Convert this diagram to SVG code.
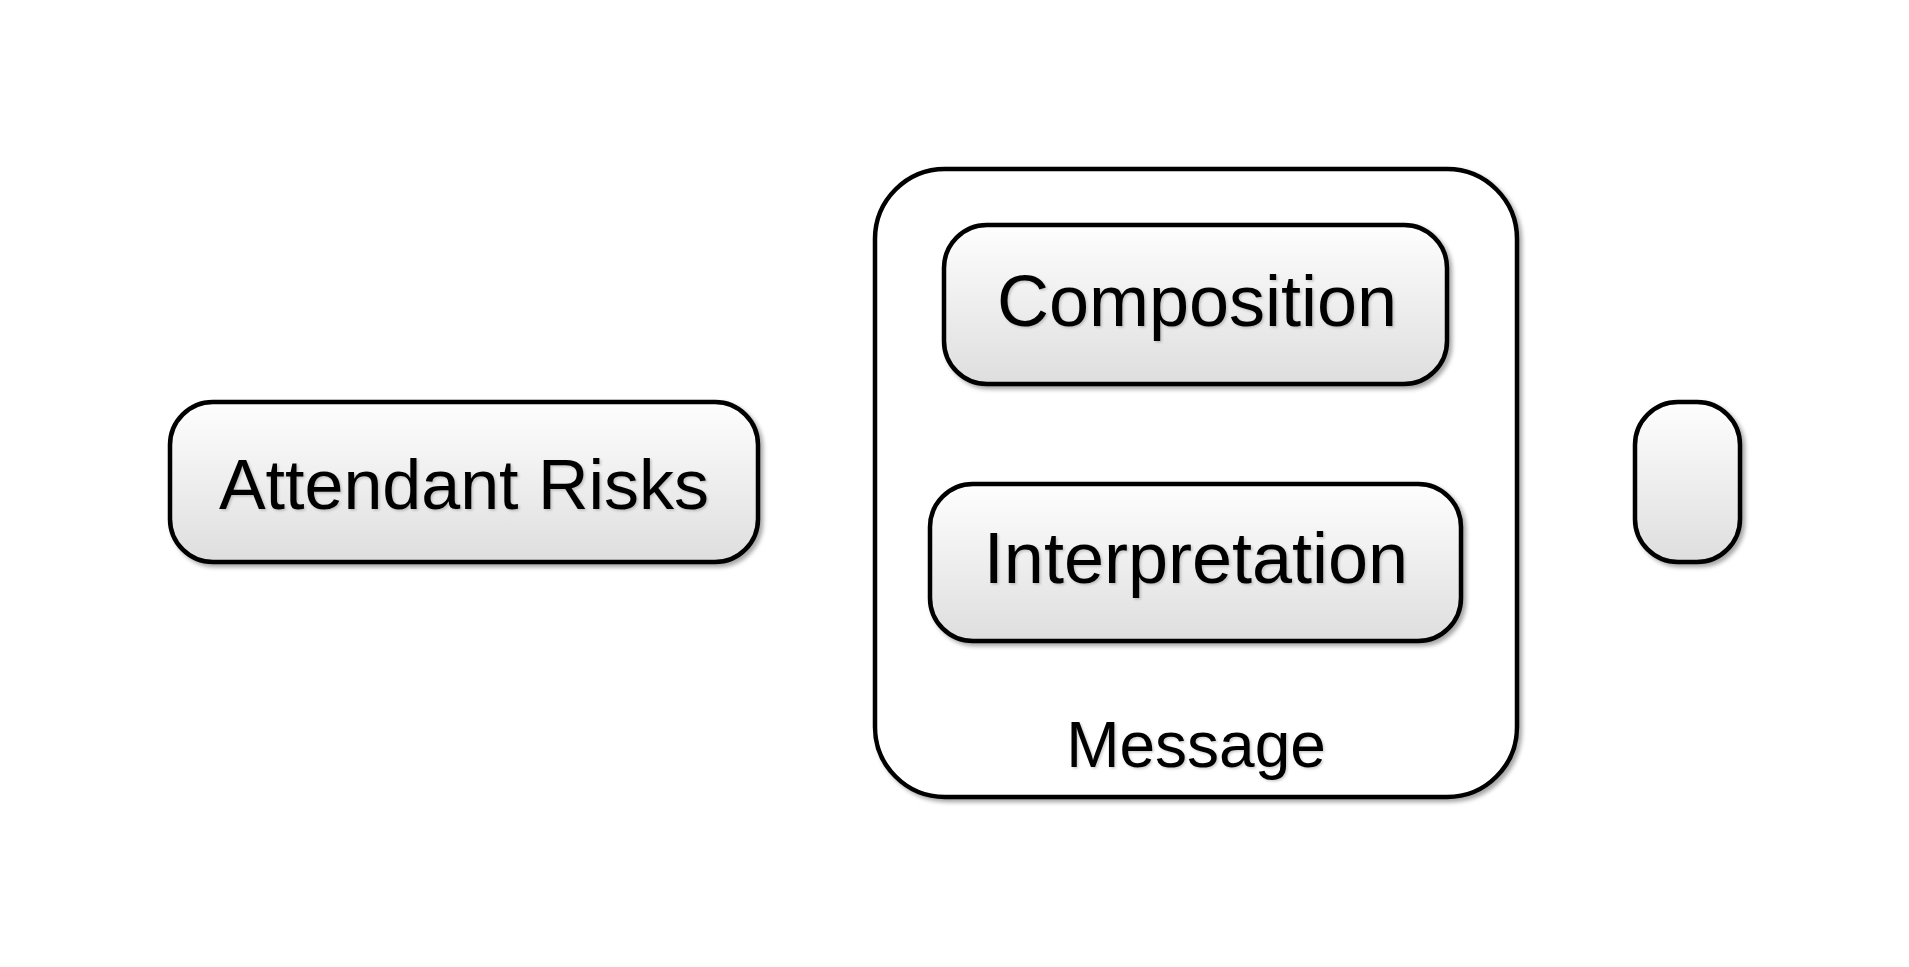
<svg xmlns="http://www.w3.org/2000/svg" width="1909" height="967" viewBox="0 0 1909 967">
<defs>
<linearGradient id="g" x1="0" y1="0" x2="0" y2="1">
<stop offset="0" stop-color="#fefefe"/>
<stop offset="1" stop-color="#dedede"/>
</linearGradient>
<filter id="sh" x="-10%" y="-10%" width="120%" height="120%">
<feDropShadow dx="3" dy="3" stdDeviation="2" flood-color="#000" flood-opacity="0.35"/>
</filter>
<filter id="tsh" x="-5%" y="-20%" width="110%" height="140%">
<feDropShadow dx="1.5" dy="1.5" stdDeviation="1" flood-color="#000" flood-opacity="0.2"/>
</filter>
</defs>
<style>
.box{fill:url(#g);stroke:#000;stroke-width:4.5;filter:url(#sh)}
.cont{fill:#fff;stroke:#000;stroke-width:4.5;filter:url(#sh)}
.t{font-family:"Liberation Sans",Arial,sans-serif;fill:#000;text-anchor:middle;filter:url(#tsh)}
</style>
<rect width="1909" height="967" fill="#fff"/>
<g id="connectors"></g>
<g id="attendant-risks">
<rect class="box" x="170" y="402" width="588" height="160" rx="43"/>
<text class="t" x="464" y="509" font-size="70">Attendant Risks</text>
</g>
<g id="message">
<rect class="cont" x="875" y="169" width="642" height="628" rx="70"/>
<text class="t" x="1196" y="767" font-size="64">Message</text>
</g>
<g id="composition">
<rect class="box" x="944" y="225" width="503" height="159" rx="43"/>
<text class="t" x="1197" y="326" font-size="72">Composition</text>
</g>
<g id="interpretation">
<rect class="box" x="930" y="484" width="531" height="157" rx="43"/>
<text class="t" x="1196" y="583" font-size="72">Interpretation</text>
</g>
<g id="empty-node">
<rect class="box" x="1635" y="402" width="105" height="160" rx="43"/>
</g>
</svg>
